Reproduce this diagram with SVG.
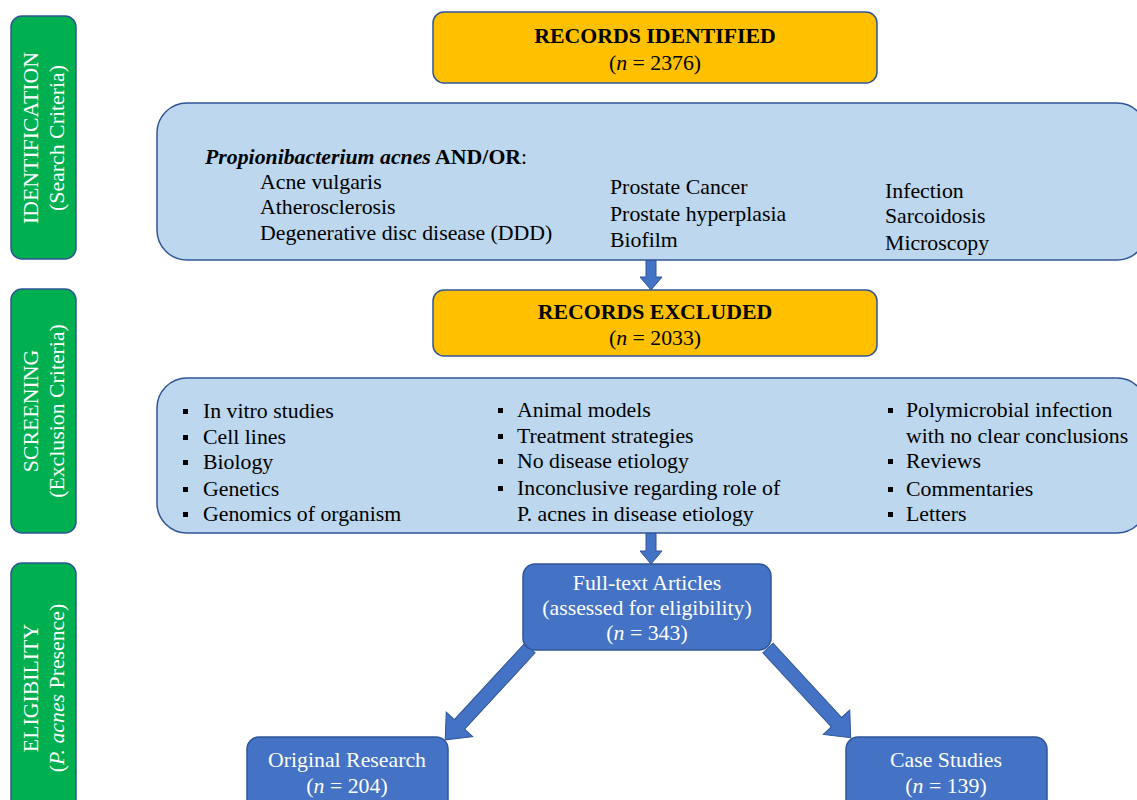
<svg xmlns="http://www.w3.org/2000/svg" width="1137" height="800" viewBox="0 0 1137 800">
<style>
text{font-family:"Liberation Serif","Times New Roman",serif;font-size:21.8px;fill:#000}
.side{fill:#00B050;stroke:#2F5597;stroke-width:1.5}
.side-t{fill:#fff;font-size:21.8px;text-anchor:middle}
.orange{fill:#FFC000;stroke:#2F5597;stroke-width:1.5}
.lb{fill:#BDD7EE;stroke:#2F5597;stroke-width:1.5}
.blue{fill:#4472C4;stroke:#2F5597;stroke-width:1.5}
.wt{fill:#fff;text-anchor:middle}
.ct{text-anchor:middle}
.b{font-weight:bold}
.i{font-style:italic}
.arr{fill:#4472C4;stroke:#2F5597;stroke-width:1}
.bul{fill:#000}
</style>
<rect width="1137" height="800" fill="#fff"/>

<g id="side-identification">
<rect class="side" x="11" y="16" width="65" height="243" rx="11"/>
<text class="side-t" transform="translate(38,138) rotate(-90)">IDENTIFICATION</text>
<text class="side-t" transform="translate(64,138) rotate(-90)">(Search Criteria)</text>
</g>
<g id="side-screening">
<rect class="side" x="11" y="289" width="65" height="244" rx="11"/>
<text class="side-t" transform="translate(38,411) rotate(-90)">SCREENING</text>
<text class="side-t" transform="translate(64,411) rotate(-90)">(Exclusion Criteria)</text>
</g>
<g id="side-eligibility">
<rect class="side" x="11" y="563" width="65" height="260" rx="11"/>
<text class="side-t" transform="translate(38,688) rotate(-90)">ELIGIBILITY</text>
<text class="side-t" transform="translate(64,688) rotate(-90)">(<tspan class="i">P. acnes</tspan> Presence)</text>
</g>

<g id="connectors">
<polygon class="arr" points="646,260 656,260 656,277 662,277 651,290 640,277 646,277"/>
<polygon class="arr" points="646,533 656,533 656,551 662,551 651,564 640,551 646,551"/>
<polygon class="arr" transform="translate(530,648) rotate(132.7)" points="0,-7 104,-7 104,-18 125,0 104,18 104,7 0,7"/>
<polygon class="arr" transform="translate(768,648) rotate(47.3)" points="0,-7 101,-7 101,-18 122,0 101,18 101,7 0,7"/>
</g>

<g id="records-identified">
<rect class="orange" x="433" y="12" width="444" height="71" rx="11"/>
<text class="ct b" x="655" y="43">RECORDS IDENTIFIED</text>
<text class="ct" x="655" y="70">(<tspan class="i">n</tspan> = 2376)</text>
</g>

<g id="search-criteria">
<rect class="lb" x="157" y="103" width="990" height="157" rx="30"/>
<text x="205" y="164"><tspan class="b i">Propionibacterium acnes</tspan><tspan class="b"> AND/OR</tspan>:</text>
<text x="260" y="189">Acne vulgaris</text>
<text x="260" y="214">Atherosclerosis</text>
<text x="260" y="240">Degenerative disc disease (DDD)</text>
<text x="610" y="194">Prostate Cancer</text>
<text x="610" y="221">Prostate hyperplasia</text>
<text x="610" y="247">Biofilm</text>
<text x="885" y="198">Infection</text>
<text x="885" y="223">Sarcoidosis</text>
<text x="885" y="250">Microscopy</text>
</g>

<g id="records-excluded">
<rect class="orange" x="433" y="290" width="444" height="66" rx="11"/>
<text class="ct b" x="655" y="319">RECORDS EXCLUDED</text>
<text class="ct" x="655" y="345">(<tspan class="i">n</tspan> = 2033)</text>
</g>

<g id="exclusion-criteria">
<rect class="lb" x="157" y="378" width="990" height="155" rx="30"/>
<rect class="bul" x="183" y="409" width="5" height="5"/>
<rect class="bul" x="183" y="435" width="5" height="5"/>
<rect class="bul" x="183" y="460" width="5" height="5"/>
<rect class="bul" x="183" y="487" width="5" height="5"/>
<rect class="bul" x="183" y="512" width="5" height="5"/>
<text x="203" y="418">In vitro studies</text>
<text x="203" y="444">Cell lines</text>
<text x="203" y="469">Biology</text>
<text x="203" y="496">Genetics</text>
<text x="203" y="521">Genomics of organism</text>
<rect class="bul" x="498" y="408" width="5" height="5"/>
<rect class="bul" x="498" y="434" width="5" height="5"/>
<rect class="bul" x="498" y="459" width="5" height="5"/>
<rect class="bul" x="498" y="486" width="5" height="5"/>
<text x="517" y="417">Animal models</text>
<text x="517" y="443">Treatment strategies</text>
<text x="517" y="468">No disease etiology</text>
<text x="517" y="495">Inconclusive regarding role of</text>
<text x="517" y="521">P. acnes in disease etiology</text>
<rect class="bul" x="888" y="408" width="5" height="5"/>
<rect class="bul" x="888" y="459" width="5" height="5"/>
<rect class="bul" x="888" y="487" width="5" height="5"/>
<rect class="bul" x="888" y="512" width="5" height="5"/>
<text x="906" y="417">Polymicrobial infection</text>
<text x="906" y="443">with no clear conclusions</text>
<text x="906" y="468">Reviews</text>
<text x="906" y="496">Commentaries</text>
<text x="906" y="521">Letters</text>
</g>

<g id="full-text">
<rect class="blue" x="523" y="564" width="248" height="86" rx="12"/>
<text class="wt" x="647" y="590">Full-text Articles</text>
<text class="wt" x="647" y="615">(assessed for eligibility)</text>
<text class="wt" x="647" y="640">(<tspan class="i">n</tspan> = 343)</text>
</g>

<g id="original-research">
<rect class="blue" x="247" y="737" width="201" height="80" rx="12"/>
<text class="wt" x="347" y="767">Original Research</text>
<text class="wt" x="347" y="793">(<tspan class="i">n</tspan> = 204)</text>
</g>

<g id="case-studies">
<rect class="blue" x="846" y="737" width="201" height="80" rx="12"/>
<text class="wt" x="946" y="767">Case Studies</text>
<text class="wt" x="946" y="793">(<tspan class="i">n</tspan> = 139)</text>
</g>
</svg>
